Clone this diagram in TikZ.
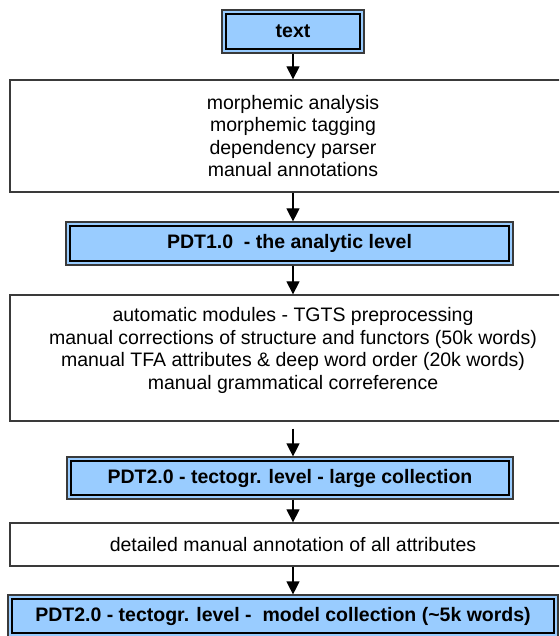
\documentclass[tikz,border=0pt]{standalone}
\usepackage{fontspec}
\setmainfont{Liberation Sans}
\usetikzlibrary{arrows.meta, positioning, calc}
\definecolor{levelblue}{HTML}{99CCFF}
\definecolor{rimgray}{HTML}{3A3A3A}
\tikzset{
  stepbox/.style={
    rectangle, draw=rimgray, line width=1.3pt, fill=white,
    align=center, inner sep=0pt,
    font=\fontsize{19.5}{22.5}\selectfont,
  },
  levelbox/.style={
    stepbox, fill=levelblue, line width=1.2pt,
    font=\fontsize{19.5}{22.5}\selectfont\bfseries,
    path picture={
      \draw[black, line width=2.5pt]
        ([shift={(3.9pt,-3.9pt)}]path picture bounding box.north west) rectangle
        ([shift={(-3.9pt,3.9pt)}]path picture bounding box.south east);
    },
  },
  mainarrow/.style={-{Triangle[length=13pt, width=13pt]}, line width=1.2pt},
}

\begin{document}
\begin{tikzpicture}[x=1pt, y=-1pt]
  \clip (0,0) rectangle (559,636);

  % ---- levels (blue) ----
  \node[levelbox, minimum width=142, minimum height=43] (txt) at (293,31.5) {text};
  \node[levelbox, minimum width=447, minimum height=43] (pdtA) at (289.5,243.5)
    {PDT1.0\ \ - the analytic level};
  \node[levelbox, minimum width=446, minimum height=42] (pdtT) at (290,478)
    {PDT2.0 - tectogr. level - large collection};
  \node[levelbox, minimum width=550, minimum height=42] (pdtM) at (283,616)
    {PDT2.0 - tectogr. level -\ \ model collection (\textasciitilde5k words)};

  % ---- processing steps (white) ----
  \node[stepbox, minimum width=566, minimum height=112] (morph) at (293,136)
    {morphemic analysis\\morphemic tagging\\dependency parser\\manual annotations};
  \node[stepbox, minimum width=566, minimum height=126] (tecto) at (293,358) {};
  \node[align=center, font=\fontsize{19.5}{22.5}\selectfont] (tectoTxt) at (293,350.5)
    {automatic modules - TGTS preprocessing\\
     manual corrections of structure and functors (50k words)\\
     manual TFA attributes \& deep word order (20k words)\\
     manual grammatical correference};
  \node[stepbox, minimum width=566, minimum height=43] (detail) at (293,544.5)
    {detailed manual annotation of all attributes};

  % ---- arrows ----
  \draw[mainarrow] (txt.south) -- (morph.north);
  \draw[mainarrow] (morph.south) -- (morph.south |- pdtA.north);
  \draw[mainarrow] (morph.south |- pdtA.south) -- (tecto.north);
  \draw[mainarrow, shorten <=7pt] (tecto.south) -- (tecto.south |- pdtT.north);
  \draw[mainarrow] (tecto.south |- pdtT.south) -- (detail.north);
  \draw[mainarrow] (detail.south) -- (detail.south |- pdtM.north);
\end{tikzpicture}
\end{document}
